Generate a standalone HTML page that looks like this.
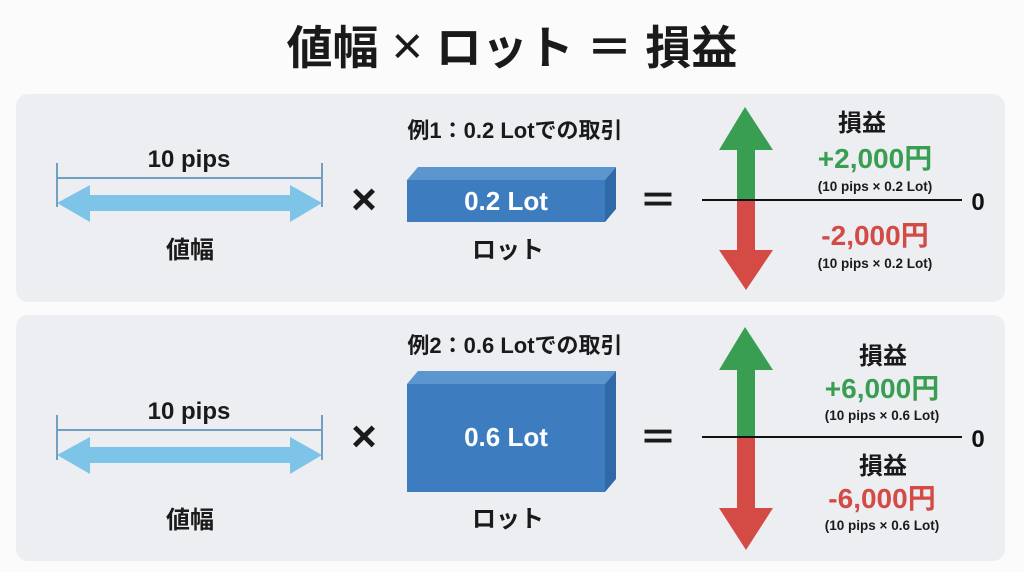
<!DOCTYPE html>
<html><head><meta charset="utf-8"><style>
body{margin:0;width:1024px;height:572px;background:#fbfbfb;overflow:hidden}
svg{display:block}
text{font-family:"Liberation Sans","Noto Sans CJK JP",sans-serif;font-weight:bold;text-anchor:middle}
</style></head><body>
<svg width="1024" height="572" viewBox="0 0 1024 572">
<text x="512" y="64" font-size="46" fill="#1a1a1a">値幅 <tspan font-size="54" font-weight="normal">×</tspan> ロット ＝ 損益</text>
<rect x="16" y="94" width="989" height="208" rx="12" fill="#eceef2"/>
<rect x="16" y="315" width="989" height="246" rx="12" fill="#eceef2"/>

<!-- panel 1 -->
<text x="515" y="138" font-size="22" fill="#1a1a1a">例1：0.2 Lotでの取引</text>
<text x="189" y="167" font-size="24" fill="#1a1a1a">10 pips</text>
<line x1="57" y1="163" x2="57" y2="207" stroke="#4a86b0" stroke-width="1.5"/>
<line x1="322" y1="163" x2="322" y2="207" stroke="#4a86b0" stroke-width="1.5"/>
<line x1="58" y1="178" x2="321" y2="178" stroke="#4a86b0" stroke-width="1.5"/>
<polygon points="57,203 90,185 90,195 290,195 290,185 322,203 290,222 290,211 90,211 90,222" fill="#7ec4e8"/>
<text x="190" y="258" font-size="24" fill="#1a1a1a">値幅</text>
<text x="364" y="214" font-size="44" font-weight="normal" fill="#1a1a1a">×</text>
<polygon points="407,180 418,167 616,167 605,180" fill="#5b96cf"/>
<polygon points="605,180 616,167 616,209 605,222" fill="#2f6aa6"/>
<rect x="407" y="180" width="198" height="42" fill="#3d7dbf"/>
<text x="506" y="210" font-size="26" fill="#fff" font-weight="normal">0.2 Lot</text>
<text x="508" y="258" font-size="24" fill="#1a1a1a">ロット</text>
<text x="658" y="214" font-size="38" fill="#1a1a1a">＝</text>
<polygon points="745,107 773,150 755,150 755,200 737,200 737,150 719,150" fill="#3a9e52"/>
<polygon points="737,200 755,200 755,250 773,250 746,290 719,250 737,250" fill="#d44a45"/>
<line x1="702" y1="200" x2="962" y2="200" stroke="#111" stroke-width="2"/>
<text x="978" y="210" font-size="24" fill="#111">0</text>
<text x="862" y="131" font-size="24" fill="#1a1a1a">損益</text>
<text x="875" y="168" font-size="28" fill="#3a9e52">+2,000円</text>
<text x="875" y="191" font-size="13.5" fill="#1a1a1a">(10 pips × 0.2 Lot)</text>
<text x="875" y="245" font-size="28" fill="#d44a45">-2,000円</text>
<text x="875" y="268" font-size="13.5" fill="#1a1a1a">(10 pips × 0.2 Lot)</text>

<!-- panel 2 -->
<text x="515" y="353" font-size="22" fill="#1a1a1a">例2：0.6 Lotでの取引</text>
<text x="189" y="419" font-size="24" fill="#1a1a1a">10 pips</text>
<line x1="57" y1="415" x2="57" y2="460" stroke="#4a86b0" stroke-width="1.5"/>
<line x1="322" y1="415" x2="322" y2="460" stroke="#4a86b0" stroke-width="1.5"/>
<line x1="58" y1="430" x2="321" y2="430" stroke="#4a86b0" stroke-width="1.5"/>
<polygon points="57,455 90,437 90,447 290,447 290,437 322,455 290,474 290,463 90,463 90,474" fill="#7ec4e8"/>
<text x="190" y="528" font-size="24" fill="#1a1a1a">値幅</text>
<text x="364" y="451" font-size="44" font-weight="normal" fill="#1a1a1a">×</text>
<polygon points="407,384 418,371 616,371 605,384" fill="#5b96cf"/>
<polygon points="605,384 616,371 616,479 605,492" fill="#2f6aa6"/>
<rect x="407" y="384" width="198" height="108" fill="#3d7dbf"/>
<text x="506" y="446" font-size="26" fill="#fff" font-weight="normal">0.6 Lot</text>
<text x="508" y="527" font-size="24" fill="#1a1a1a">ロット</text>
<text x="658" y="451" font-size="38" fill="#1a1a1a">＝</text>
<polygon points="745,327 773,370 755,370 755,437 737,437 737,370 719,370" fill="#3a9e52"/>
<polygon points="737,437 755,437 755,508 773,508 746,550 719,508 737,508" fill="#d44a45"/>
<line x1="702" y1="437" x2="962" y2="437" stroke="#111" stroke-width="2"/>
<text x="978" y="447" font-size="24" fill="#111">0</text>
<text x="883" y="364" font-size="24" fill="#1a1a1a">損益</text>
<text x="882" y="398" font-size="28" fill="#3a9e52">+6,000円</text>
<text x="882" y="420" font-size="13.5" fill="#1a1a1a">(10 pips × 0.6 Lot)</text>
<text x="883" y="474" font-size="24" fill="#1a1a1a">損益</text>
<text x="882" y="508" font-size="28" fill="#d44a45">-6,000円</text>
<text x="882" y="530" font-size="13.5" fill="#1a1a1a">(10 pips × 0.6 Lot)</text>
</svg>
</body></html>
